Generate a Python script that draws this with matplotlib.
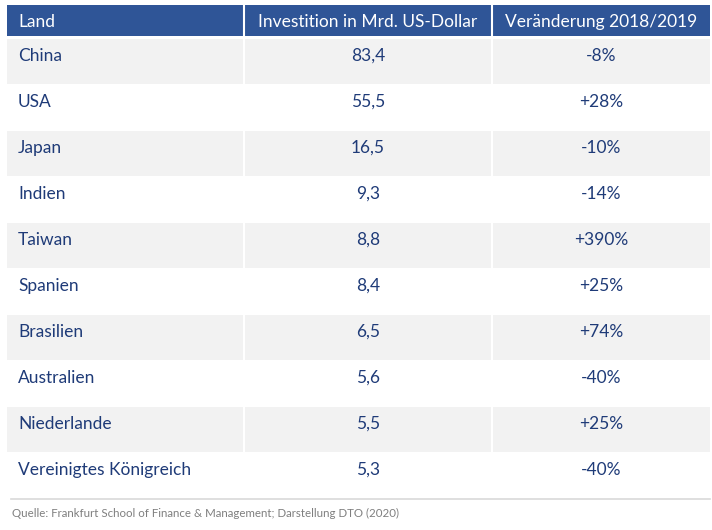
import matplotlib.pyplot as plt
from matplotlib.patches import Rectangle

# Daten
laender = ["China", "USA", "Japan", "Indien", "Taiwan", "Spanien",
           "Brasilien", "Australien", "Niederlande", "Vereinigtes Königreich"]
investition = [83.4, 55.5, 16.5, 9.3, 8.8, 8.4, 6.5, 5.6, 5.5, 5.3]
veraenderung = [-8, 28, -10, -14, 390, 25, 74, -40, 25, -40]
kopf = ["Land", "Investition in Mrd. US-Dollar", "Veränderung 2018/2019"]
quelle = "Quelle: Frankfurt School of Finance & Management; Darstellung DTO (2020)"

BLAU = "#2F5597"
TEXT = "#1F3B78"
GRAU = "#F2F2F2"

plt.rcParams['font.family'] = ['Lato', 'DejaVu Sans']

W, H = 712, 530
fig = plt.figure(figsize=(W / 100, H / 100), dpi=100)
ax = fig.add_axes([0, 0, 1, 1])
ax.set_xlim(0, W)
ax.set_ylim(H, 0)
ax.axis("off")

# Spaltengrenzen (Pixel)
x0, x1, x2, x3 = 7, 244, 492, 710
kopf_oben, kopf_unten = 5, 36
zeile_oben, zeile_h = 39, 46.0

# Kopfzeile
ax.add_patch(Rectangle((x0, kopf_oben), x3 - x0, kopf_unten - kopf_oben,
                       facecolor=BLAU, edgecolor="none"))
for xs in (x1, x2):
    ax.plot([xs, xs], [kopf_oben, kopf_unten], color="white", lw=1.5)
ty = (kopf_oben + kopf_unten) / 2 + 1.5
ax.text(x0 + 11, ty, kopf[0], color="white", fontsize=12.5, va="center", ha="left")
ax.text((x1 + x2) / 2, ty, kopf[1], color="white", fontsize=12.5, va="center", ha="center")
ax.text((x2 + x3) / 2, ty, kopf[2], color="white", fontsize=12.5, va="center", ha="center")

# Zeilen
for i, (land, inv, ver) in enumerate(zip(laender, investition, veraenderung)):
    top = zeile_oben + i * zeile_h
    if i % 2 == 0:
        ax.add_patch(Rectangle((x0, top), x3 - x0, zeile_h - 1,
                               facecolor=GRAU, edgecolor="none"))
        for xs in (x1, x2):
            ax.plot([xs, xs], [top, top + zeile_h - 1], color="white", lw=1.5)
    yt = top + 17
    ax.text(x0 + 11, yt, land, color=TEXT, fontsize=12.5, va="center", ha="left")
    ax.text((x1 + x2) / 2, yt, f"{inv:.1f}".replace(".", ","), color=TEXT,
            fontsize=12.5, va="center", ha="center")
    ax.text((x2 + x3) / 2, yt, f"{ver:+d}%", color=TEXT,
            fontsize=12.5, va="center", ha="center")

# Abschlusslinie
unten = zeile_oben + len(laender) * zeile_h
ax.plot([x0 + 4, x3], [unten, unten], color="#D9D9D9", lw=1.2)

ax.text(12, 513, quelle, color="#7F7F7F", fontsize=8.3, va="center", ha="left")

fig.savefig("out.png", dpi=100)
